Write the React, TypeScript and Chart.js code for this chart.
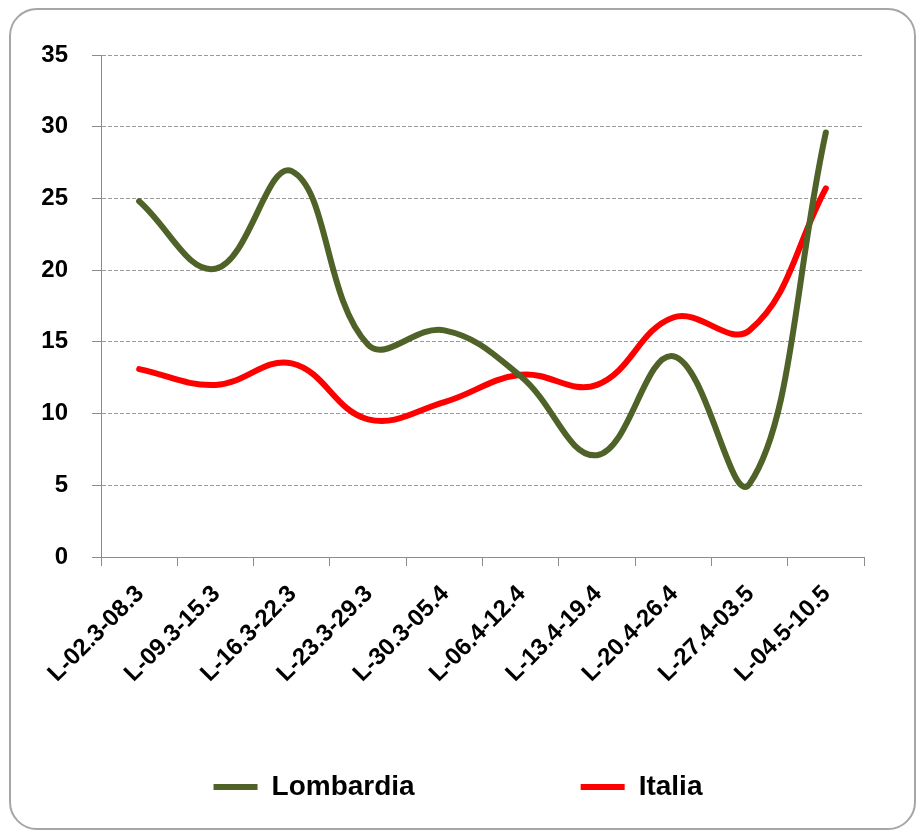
import React, { useEffect, useRef } from "react";
import { Chart, registerables } from "chart.js";

Chart.register(...registerables);

const categories = [
  "L-02.3-08.3",
  "L-09.3-15.3",
  "L-16.3-22.3",
  "L-23.3-29.3",
  "L-30.3-05.4",
  "L-06.4-12.4",
  "L-13.4-19.4",
  "L-20.4-26.4",
  "L-27.4-03.5",
  "L-04.5-10.5",
];
const lombardia = [24.8, 20.1, 26.9, 14.8, 15.8, 12.6, 7.1, 14.0, 5.1, 29.6];
const italia = [13.1, 12.0, 13.5, 9.6, 10.8, 12.7, 12.0, 16.7, 15.8, 25.7];
const yMin = 0;
const yMax = 35;
const yStep = 5;

const FONT = "'Liberation Sans', Arial, sans-serif";
const AXIS_GRAY = "#8c8c8c";

export default function App() {
  const ref = useRef<HTMLCanvasElement | null>(null);

  useEffect(() => {
    if (!ref.current) return;
    const chart = new Chart(ref.current, {
      type: "line",
      data: {
        labels: categories,
        datasets: [
          {
            label: "Lombardia",
            data: lombardia,
            borderColor: "#4f6228",
            backgroundColor: "#4f6228",
            borderWidth: 6,
            borderCapStyle: "round",
            pointRadius: 0,
            pointHoverRadius: 0,
            tension: 0.4,
            fill: false,
            yAxisID: "y",
          },
          {
            label: "Italia",
            data: italia,
            borderColor: "#ff0000",
            backgroundColor: "#ff0000",
            borderWidth: 6,
            borderCapStyle: "round",
            pointRadius: 0,
            pointHoverRadius: 0,
            tension: 0.4,
            fill: false,
            yAxisID: "y",
          },
        ],
      },
      options: {
        responsive: false,
        animation: false,
        devicePixelRatio: 1,
        layout: { padding: { left: 0, right: 9, top: 45, bottom: 17 } },
        plugins: {
          tooltip: { enabled: false },
          title: { display: false },
          legend: {
            display: true,
            position: "bottom",
            onClick: () => {},
            labels: {
              usePointStyle: true,
              pointStyle: "line",
              pointStyleWidth: 44,
              padding: 54,
              color: "#000",
              font: { family: FONT, size: 28, weight: "bold" },
              generateLabels: (c: any) => {
                const items = Chart.defaults.plugins.legend.labels.generateLabels(c);
                const spacer = {
                  text: "",
                  fillStyle: "rgba(0,0,0,0)",
                  strokeStyle: "rgba(0,0,0,0)",
                  lineWidth: 0,
                  hidden: false,
                  pointStyle: "line",
                  datasetIndex: -1,
                };
                return [items[0], spacer as any, items[1]];
              },
            },
          },
        },
        scales: {
          x: {
            type: "category",
            offset: true,
            afterFit: (s: any) => {
              s.height = 162;
            },
            grid: {
              display: true,
              offset: true,
              drawOnChartArea: false,
              drawTicks: true,
              tickLength: 9,
              color: AXIS_GRAY,
              tickColor: AXIS_GRAY,
            },
            border: { display: true, color: AXIS_GRAY, width: 1 },
            ticks: {
              autoSkip: false,
              minRotation: 45,
              maxRotation: 45,
              padding: 14,
              labelOffset: 1,
              color: "#000",
              font: { family: FONT, size: 24, weight: "bold" },
            },
          },
          y: {
            min: yMin,
            max: yMax,
            afterFit: (s: any) => {
              s.width = 90;
            },
            grid: {
              display: true,
              drawOnChartArea: true,
              drawTicks: true,
              tickLength: 9,
              color: "#9a9a9a",
              tickColor: AXIS_GRAY,
              tickBorderDash: [],
              lineWidth: 1,
            },
            border: { display: true, color: AXIS_GRAY, width: 1, dash: [4, 2] },
            ticks: {
              stepSize: yStep,
              padding: 24,
              color: "#000",
              font: { family: FONT, size: 24, weight: "bold" },
            },
          },
          yRightSpace: {
            type: "linear",
            position: "right",
            display: true,
            afterFit: (s: any) => {
              s.width = 41;
            },
            grid: { display: false, drawTicks: false },
            border: { display: false },
            ticks: { display: false },
          },
        },
      },
    });
    return () => chart.destroy();
  }, []);

  return (
    <div
      style={{
        position: "absolute",
        left: 9,
        top: 8,
        width: 907,
        height: 822,
        boxSizing: "border-box",
        border: "2px solid #a6a6a6",
        borderRadius: 28,
        background: "#fff",
        overflow: "hidden",
      }}
    >
      <canvas ref={ref} width={903} height={818} style={{ display: "block" }} />
    </div>
  );
}
